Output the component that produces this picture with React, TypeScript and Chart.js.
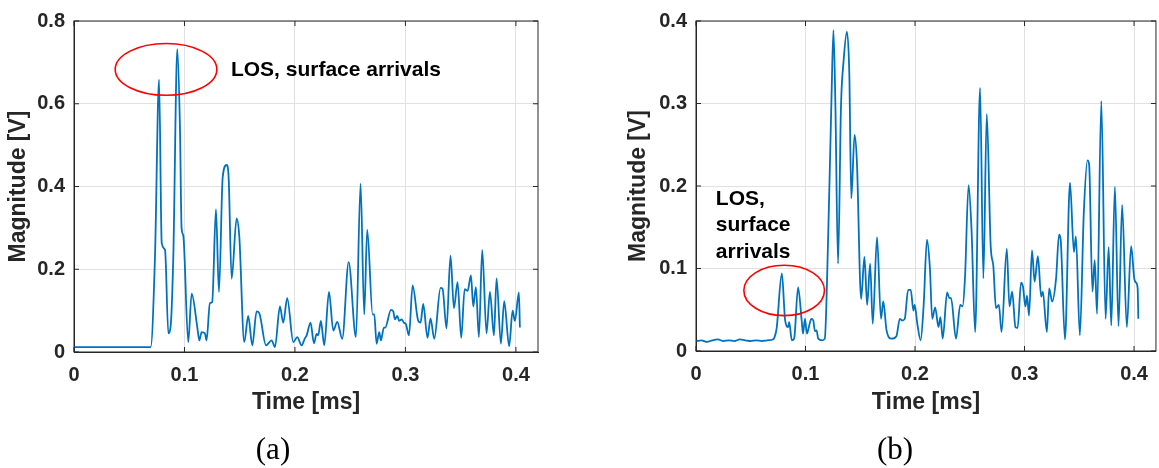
import React, { useEffect, useRef } from "react";
import { Chart, registerables } from "chart.js";

Chart.register(...registerables);

// ---------- data ----------
const timeA = [0, 0.015, 0.03, 0.045, 0.06, 0.0694, 0.0733, 0.077, 0.0794, 0.0824, 0.0854, 0.0875, 0.0899, 0.0935, 0.0959, 0.0974, 0.0989, 0.1034, 0.1065, 0.1116, 0.1134, 0.1155, 0.1185, 0.12, 0.123, 0.1251, 0.1285, 0.1312, 0.1346, 0.1382, 0.14, 0.1427, 0.1472, 0.1496, 0.1541, 0.1577, 0.1614, 0.1653, 0.1677, 0.1738, 0.1789, 0.1819, 0.1864, 0.1894, 0.193, 0.1985, 0.2021, 0.206, 0.209, 0.2106, 0.2141, 0.2172, 0.2196, 0.221, 0.2235, 0.2265, 0.2308, 0.2347, 0.2383, 0.2428, 0.2486, 0.2552, 0.2594, 0.2627, 0.2654, 0.2703, 0.2718, 0.2739, 0.2763, 0.2778, 0.2805, 0.2817, 0.2869, 0.289, 0.2905, 0.2926, 0.2944, 0.2965, 0.2986, 0.3005, 0.3032, 0.3065, 0.3116, 0.3137, 0.3161, 0.32, 0.3227, 0.3261, 0.3318, 0.3336, 0.3372, 0.3408, 0.3439, 0.3472, 0.3505, 0.3536, 0.3563, 0.3593, 0.3614, 0.3638, 0.3665, 0.3695, 0.3734, 0.3765, 0.3801, 0.3825, 0.3864, 0.3894, 0.3939, 0.397, 0.3991, 0.4027, 0.4036];
const magA = [0.012, 0.012, 0.012, 0.012, 0.012, 0.012, 0.23, 0.658, 0.263, 0.247, 0.045, 0.063, 0.232, 0.732, 0.544, 0.298, 0.282, 0.024, 0.141, 0.06, 0.028, 0.048, 0.045, 0.028, 0.118, 0.121, 0.345, 0.145, 0.423, 0.452, 0.42, 0.177, 0.323, 0.28, 0.024, 0.087, 0.016, 0.098, 0.094, 0.016, 0.028, 0.012, 0.11, 0.071, 0.13, 0.024, 0.036, 0.016, 0.033, 0.04, 0.071, 0.021, 0.044, 0.04, 0.075, 0.016, 0.145, 0.052, 0.073, 0.032, 0.217, 0.036, 0.407, 0.091, 0.296, 0.091, 0.091, 0.02, 0.048, 0.028, 0.059, 0.059, 0.102, 0.098, 0.079, 0.087, 0.075, 0.079, 0.071, 0.067, 0.04, 0.161, 0.075, 0.071, 0.116, 0.034, 0.081, 0.032, 0.155, 0.153, 0.057, 0.233, 0.106, 0.169, 0.034, 0.152, 0.148, 0.185, 0.11, 0.157, 0.036, 0.247, 0.045, 0.145, 0.04, 0.178, 0.02, 0.123, 0.014, 0.1, 0.075, 0.144, 0.059];

const timeB = [0, 0.005, 0.01, 0.015, 0.02, 0.025, 0.03, 0.035, 0.04, 0.045, 0.05, 0.055, 0.06, 0.065, 0.07, 0.0715, 0.0736, 0.0784, 0.0814, 0.0842, 0.0851, 0.0875, 0.0896, 0.0932, 0.0965, 0.0977, 0.0995, 0.1013, 0.1032, 0.1053, 0.1071, 0.1086, 0.1101, 0.1116, 0.1152, 0.1176, 0.1207, 0.1237, 0.1255, 0.1273, 0.1297, 0.1324, 0.1348, 0.1378, 0.14, 0.1418, 0.1448, 0.1469, 0.1508, 0.1538, 0.1563, 0.159, 0.1614, 0.1653, 0.1689, 0.171, 0.174, 0.1786, 0.183, 0.1861, 0.1882, 0.1906, 0.1937, 0.1961, 0.1985, 0.1997, 0.2021, 0.2051, 0.2079, 0.2109, 0.2136, 0.2157, 0.2184, 0.2214, 0.2232, 0.2253, 0.2293, 0.2314, 0.2329, 0.2374, 0.2413, 0.2434, 0.2456, 0.2489, 0.2516, 0.2549, 0.2594, 0.2624, 0.2655, 0.2691, 0.2715, 0.2739, 0.2766, 0.279, 0.2838, 0.2862, 0.2887, 0.2917, 0.2937, 0.2968, 0.2986, 0.3008, 0.3023, 0.3041, 0.3068, 0.3092, 0.3122, 0.3152, 0.3167, 0.3204, 0.3225, 0.3252, 0.3288, 0.3315, 0.333, 0.3369, 0.3415, 0.3451, 0.3469, 0.3505, 0.3541, 0.3575, 0.359, 0.362, 0.3641, 0.3662, 0.3701, 0.374, 0.3768, 0.3792, 0.3825, 0.3858, 0.3891, 0.3934, 0.3973, 0.4003, 0.4018, 0.4033, 0.4039];
const magB = [0.012, 0.013, 0.011, 0.013, 0.014, 0.012, 0.013, 0.012, 0.014, 0.013, 0.012, 0.013, 0.012, 0.013, 0.014, 0.016, 0.027, 0.094, 0.037, 0.029, 0.035, 0.013, 0.015, 0.077, 0.037, 0.021, 0.039, 0.021, 0.03, 0.039, 0.037, 0.024, 0.025, 0.015, 0.013, 0.015, 0.139, 0.305, 0.389, 0.297, 0.106, 0.297, 0.352, 0.387, 0.336, 0.185, 0.262, 0.23, 0.063, 0.114, 0.056, 0.106, 0.033, 0.138, 0.039, 0.06, 0.025, 0.015, 0.018, 0.039, 0.037, 0.039, 0.074, 0.074, 0.049, 0.056, 0.033, 0.013, 0.056, 0.135, 0.1, 0.039, 0.053, 0.029, 0.041, 0.015, 0.071, 0.064, 0.064, 0.015, 0.056, 0.054, 0.088, 0.201, 0.147, 0.023, 0.319, 0.088, 0.287, 0.127, 0.103, 0.052, 0.056, 0.023, 0.124, 0.054, 0.072, 0.029, 0.028, 0.083, 0.078, 0.054, 0.067, 0.043, 0.122, 0.084, 0.115, 0.066, 0.072, 0.023, 0.076, 0.06, 0.088, 0.141, 0.135, 0.014, 0.204, 0.12, 0.139, 0.019, 0.167, 0.231, 0.226, 0.072, 0.11, 0.045, 0.303, 0.039, 0.126, 0.031, 0.199, 0.03, 0.177, 0.029, 0.127, 0.087, 0.083, 0.076, 0.039];

const xTicks = [0, 0.1, 0.2, 0.3, 0.4];
const yTicksA = [0, 0.2, 0.4, 0.6, 0.8];
const yTicksB = [0, 0.1, 0.2, 0.3, 0.4];
const xTitle = "Time [ms]";
const yTitle = "Magnitude [V]";
const noteA = ["LOS, surface arrivals"];
const noteB = ["LOS,", "surface", "arrivals"];
const captionA = "(a)";
const captionB = "(b)";

// annotation anchors, in data units
const ellipseA = { cx: 0.0833, cy: 0.683, rx: 0.046, ry: 0.0625 };
const ellipseB = { cx: 0.0805, cy: 0.0734, rx: 0.0368, ry: 0.0305 };
const noteAnchorA = { x: 0.142, y: 0.68 };
const noteAnchorB = { x: 0.0181, y: 0.1846 };

const LINE = "#0072BD";
const AXIS = "#262626";
const GRID = "#e1e1e1";
const FONT = "'Liberation Sans', Arial, sans-serif";

type Panel = {
  left: number;
  width: number;
  yAxisWidth: number;
  padTop: number;
  padRight: number;
  padBottom: number;
  xAxisHeight: number;
  yMax: number;
  yTicks: number[];
  time: number[];
  mag: number[];
  ellipse: { cx: number; cy: number; rx: number; ry: number };
  note: string[];
  noteAnchor: { x: number; y: number };
};

const panels: Panel[] = [
  {
    left: 0, width: 580, yAxisWidth: 74, padTop: 11, padRight: 42, padBottom: 52, xAxisHeight: 64,
    yMax: 0.8, yTicks: yTicksA, time: timeA, mag: magA, ellipse: ellipseA, note: noteA, noteAnchor: noteAnchorA,
  },
  {
    left: 620, width: 539, yAxisWidth: 76, padTop: 13, padRight: 1, padBottom: 52, xAxisHeight: 65,
    yMax: 0.4, yTicks: yTicksB, time: timeB, mag: magB, ellipse: ellipseB, note: noteB, noteAnchor: noteAnchorB,
  },
];

const fmt = (v: number) => (v === 0 ? "0" : String(v));

function ChartPanel({ p }: { p: Panel }) {
  const ref = useRef<HTMLCanvasElement | null>(null);
  useEffect(() => {
    if (!ref.current) return;
    const boxPlugin = {
      id: "matlabBox",
      afterDraw(chart: any) {
        const { ctx, chartArea } = chart;
        const { left, right, top, bottom } = chartArea;
        const xs = chart.scales.x;
        const ys = chart.scales.y;
        ctx.save();
        ctx.strokeStyle = AXIS;
        ctx.lineWidth = 1;
        ctx.strokeRect(left, top, right - left, bottom - top);
        const tl = 5;
        ctx.beginPath();
        xTicks.forEach((v) => {
          const px = xs.getPixelForValue(v);
          ctx.moveTo(px, bottom);
          ctx.lineTo(px, bottom - tl);
          ctx.moveTo(px, top);
          ctx.lineTo(px, top + tl);
        });
        p.yTicks.forEach((v) => {
          const py = ys.getPixelForValue(v);
          ctx.moveTo(left, py);
          ctx.lineTo(left + tl, py);
          ctx.moveTo(right, py);
          ctx.lineTo(right - tl, py);
        });
        ctx.stroke();
        ctx.restore();
      },
    };
    const notePlugin = {
      id: "notes",
      afterDatasetsDraw(chart: any) {
        const { ctx } = chart;
        const xs = chart.scales.x;
        const ys = chart.scales.y;
        const e = p.ellipse;
        const cx = xs.getPixelForValue(e.cx);
        const cy = ys.getPixelForValue(e.cy);
        const rx = Math.abs(xs.getPixelForValue(e.cx + e.rx) - cx);
        const ry = Math.abs(ys.getPixelForValue(e.cy + e.ry) - cy);
        ctx.save();
        ctx.strokeStyle = "#ff0000";
        ctx.lineWidth = 1.6;
        ctx.beginPath();
        ctx.ellipse(cx, cy, rx, ry, 0, 0, Math.PI * 2);
        ctx.stroke();
        ctx.fillStyle = "#000000";
        ctx.font = `bold 21px ${FONT}`;
        ctx.textBaseline = "middle";
        ctx.textAlign = "left";
        const nx = xs.getPixelForValue(p.noteAnchor.x);
        const ny = ys.getPixelForValue(p.noteAnchor.y);
        p.note.forEach((line, i) => ctx.fillText(line, nx, ny + i * 26.5));
        ctx.restore();
      },
    };
    const chart = new Chart(ref.current, {
      type: "line",
      data: {
        datasets: [
          {
            data: p.time.map((t, i) => ({ x: t, y: p.mag[i] })),
            borderColor: LINE,
            borderWidth: 1.8,
            pointRadius: 0,
            fill: false,
            cubicInterpolationMode: "monotone",
          },
        ],
      },
      options: {
        animation: false,
        responsive: false,
        devicePixelRatio: 1,
        layout: { padding: { left: 0, top: p.padTop, right: p.padRight, bottom: p.padBottom } },
        plugins: { legend: { display: false }, tooltip: { enabled: false } },
        scales: {
          x: {
            type: "linear",
            min: 0,
            max: 0.42,
            afterBuildTicks: (s: any) => {
              s.ticks = xTicks.map((v) => ({ value: v }));
            },
            afterFit: (s: any) => {
              s.height = p.xAxisHeight;
            },
            grid: { color: GRID, drawTicks: false, lineWidth: 1 },
            border: { display: true, color: AXIS, width: 1 },
            ticks: {
              padding: 11,
              color: AXIS,
              font: { family: FONT, size: 20, weight: "bold" },
              maxRotation: 0,
              autoSkip: false,
              callback: (v: any) => fmt(Number(v)),
            },
            title: {
              display: true,
              text: xTitle,
              color: AXIS,
              font: { family: FONT, size: 23, weight: "bold" },
              padding: { top: 0, bottom: 0 },
            },
          },
          y: {
            type: "linear",
            min: 0,
            max: p.yMax,
            afterBuildTicks: (s: any) => {
              s.ticks = p.yTicks.map((v) => ({ value: v }));
            },
            afterFit: (s: any) => {
              s.width = p.yAxisWidth;
            },
            grid: { color: GRID, drawTicks: false, lineWidth: 1 },
            border: { display: true, color: AXIS, width: 1 },
            ticks: {
              padding: 9,
              color: AXIS,
              font: { family: FONT, size: 20, weight: "bold" },
              autoSkip: false,
              callback: (v: any) => fmt(Number(v)),
            },
            title: {
              display: true,
              text: yTitle,
              color: AXIS,
              font: { family: FONT, size: 23, weight: "bold" },
              padding: { top: 5, bottom: 0 },
            },
          },
        },
      },
      plugins: [boxPlugin, notePlugin],
    } as any);
    return () => chart.destroy();
  }, [p]);
  return (
    <canvas
      ref={ref}
      width={p.width}
      height={468}
      style={{ position: "absolute", left: p.left, top: 0, width: p.width, height: 468 }}
    />
  );
}

export default function App() {
  const capStyle: React.CSSProperties = {
    position: "absolute",
    top: 431,
    width: 80,
    textAlign: "center",
    fontFamily: "'Liberation Serif', 'Times New Roman', serif",
    fontSize: 31,
    lineHeight: "36px",
    color: "#000",
  };
  return (
    <div style={{ position: "absolute", left: 0, top: 0, width: 1159, height: 468, background: "#fff", overflow: "hidden" }}>
      <ChartPanel p={panels[0]} />
      <ChartPanel p={panels[1]} />
      <div style={{ ...capStyle, left: 273 - 40 }}>{captionA}</div>
      <div style={{ ...capStyle, left: 895 - 40 }}>{captionB}</div>
    </div>
  );
}
